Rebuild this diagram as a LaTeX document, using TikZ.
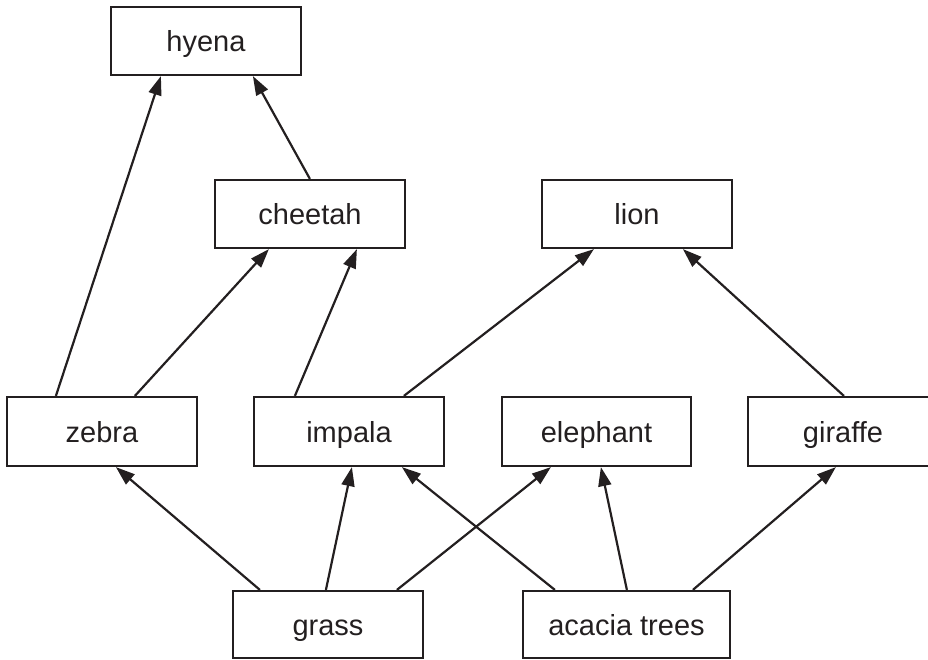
\documentclass[tikz,border=0pt]{standalone}
\usepackage{fontspec}
\setmainfont{Liberation Sans}
\usetikzlibrary{arrows.meta}
\definecolor{ink}{RGB}{35,31,32}
\begin{document}
\begin{tikzpicture}[x=1pt,y=-1pt,
  box/.style={draw=ink, line width=2.2pt, rectangle, minimum width=190pt, minimum height=68pt, inner sep=0pt, text height=21pt, text depth=0pt, text=ink, font=\fontsize{29}{34}\selectfont},
  link/.style={draw=ink, line width=2.2pt, -{Triangle[length=19pt,width=13pt]}}]
\useasboundingbox (0,0) rectangle (928,659);
\node[box] (hyena) at (206,41) {hyena};
\node[box] (cheetah) at (310,214) {cheetah};
\node[box] (lion) at (637,214) {lion};
\node[box, minimum height=69pt] (zebra) at (102,431.5) {zebra};
\node[box, minimum height=69pt] (impala) at (349,431.5) {impala};
\node[box, minimum height=69pt, minimum width=189pt] (elephant) at (596.5,431.5) {elephant};
\node[box, minimum height=69pt] (giraffe) at (843,431.5) {giraffe};
\node[box, minimum height=67pt] (grass) at (328,624.5) {grass};
\node[box, minimum height=67pt, minimum width=207pt] (acacia) at (626.5,624.5) {acacia trees};
\draw[link] ([xshift=50pt]zebra.north west) -- ([xshift=51pt]hyena.south west);
\draw[link] ([xshift=129pt]zebra.north west) -- ([xshift=55pt]cheetah.south west);
\draw[link] ([xshift=42pt]impala.north west) -- ([xshift=143pt]cheetah.south west);
\draw[link] ([xshift=151pt]impala.north west) -- ([xshift=53pt]lion.south west);
\draw[link] ([xshift=97pt]giraffe.north west) -- ([xshift=142pt]lion.south west);
\draw[link] ([xshift=96pt]cheetah.north west) -- ([xshift=143pt]hyena.south west);
\draw[link] ([xshift=28pt]grass.north west) -- ([xshift=110pt]zebra.south west);
\draw[link] ([xshift=94pt]grass.north west) -- ([xshift=99pt]impala.south west);
\draw[link] ([xshift=165pt]grass.north west) -- ([xshift=50pt]elephant.south west);
\draw[link] ([xshift=33pt]acacia.north west) -- ([xshift=149pt]impala.south west);
\draw[link] ([xshift=105pt]acacia.north west) -- ([xshift=100pt]elephant.south west);
\draw[link] ([xshift=171pt]acacia.north west) -- ([xshift=89pt]giraffe.south west);
\end{tikzpicture}
\end{document}
